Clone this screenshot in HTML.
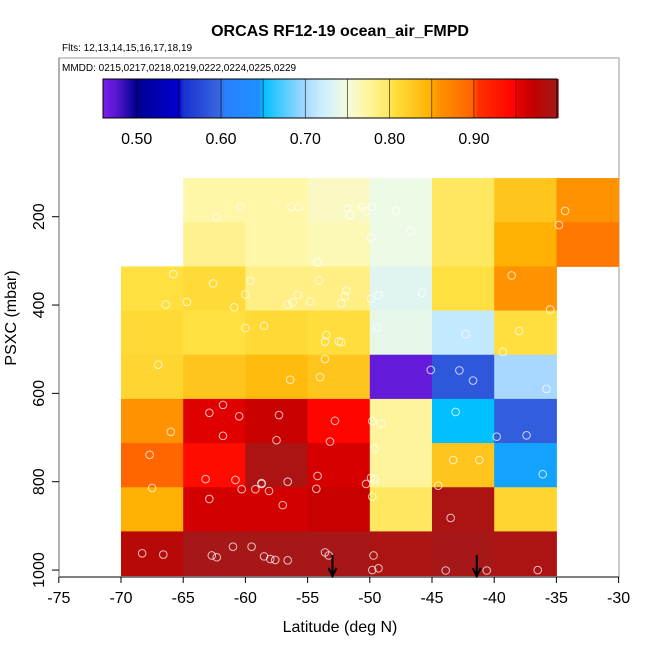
<!DOCTYPE html>
<html><head><meta charset="utf-8">
<style>
body{margin:0;background:#fff;}
svg{display:block;font-family:"Liberation Sans",Arial,sans-serif;}
</style></head>
<body>
<svg id="chart" width="650" height="650" viewBox="0 0 650 650" xmlns="http://www.w3.org/2000/svg">
<text x="340" y="36" font-size="16" font-weight="bold" text-anchor="middle">ORCAS RF12-19 ocean_air_FMPD</text>
<text x="62" y="51" font-size="10">Flts: 12,13,14,15,16,17,18,19</text>
<rect x="59" y="58" width="560" height="519" fill="none" stroke="#999" stroke-width="1"/>
<text x="62" y="71" font-size="10">MMDD: 0215,0217,0218,0219,0222,0224,0225,0229</text>
<g id="cells"></g>
<g id="points"></g>
<g id="arrows"></g>
<g id="cbar"></g>
<g id="axes"></g>
<text x="340" y="632" font-size="16" text-anchor="middle">Latitude (deg N)</text>
<text transform="translate(16,318) rotate(-90)" font-size="16" text-anchor="middle">PSXC (mbar)</text>
</svg>
<script>
const latEdges=[-70,-65,-60,-55,-50,-45,-40,-35,-30];
const presEdges=[112.5,212.5,312.5,412.5,512.5,612.5,712.5,812.5,912.5,1012.5];
const cellValues=[
[null,0.77,0.77,0.76,0.745,0.80,0.83,0.86],
[null,0.78,0.77,0.765,0.745,0.80,0.85,0.88],
[0.805,0.81,0.785,0.785,0.735,0.805,0.86,null],
[0.812,0.805,0.812,0.808,0.74,0.715,0.806,null],
[0.815,0.83,0.84,0.83,0.47,0.585,0.70,null],
[0.86,0.955,0.968,0.945,0.775,0.65,0.59,null],
[0.895,0.94,0.99,0.96,0.775,0.83,0.647,null],
[0.85,0.962,0.962,0.968,0.80,0.99,0.815,null],
[0.98,0.995,0.995,0.995,0.99,0.995,0.99,null]];
const pointLat=[-60.4,-62.3,-56.3,-55.7,-51.8,-51.6,-50.6,-50.3,-49.8,-47.9,-34.3,
-49.9,-46.7,-34.8,-54.2,-54.2,
-65.8,-66.4,-62.6,-64.7,-60.9,-60.0,-59.6,-56.6,-56.2,-55.8,-54.8,-54.1,-51.9,-52.0,-52.3,-49.9,-49.3,-45.8,-38.6,-35.5,
-60.0,-58.5,-53.5,-53.6,-52.5,-52.3,-49.4,-42.3,-38.0,-39.3,
-67.0,-56.4,-53.6,-54.0,-45.1,-42.8,-41.7,-35.8,
-62.9,-61.8,-60.5,-57.3,-66.0,-61.8,-57.5,-52.8,-53.2,-49.8,-49.1,-43.1,-39.8,-37.4,
-67.7,-49.6,-43.3,-41.2,-63.2,-60.8,-58.7,-58.7,-56.6,-54.2,-49.9,-49.6,-50.3,-36.1,
-67.5,-62.9,-60.3,-59.2,-58.1,-57.0,-54.3,-49.8,-44.5,-43.5,
-68.3,-66.6,-62.7,-62.3,-61.0,-59.5,-58.5,-58.0,-57.6,-56.6,-53.6,-53.3,-49.7,-49.8,-49.3,-43.9,-40.6,-36.5];
const pointPres=[178,201,178,178,181,196,178,188,178,187,187,
247,233,219,303,303,
330,399,351,393,405,376,345,399,394,377,392,344,367,380,396,386,378,372,333,410,
452,447,468,483,482,484,451,466,459,506,
535,569,522,563,547,548,571,590,
644,626,652,649,687,696,706,662,709,663,668,642,698,695,
739,725,751,751,794,796,803,805,800,787,791,794,805,783,
814,839,817,817,821,853,816,834,809,882,
962,965,967,971,947,947,969,975,977,978,960,967,967,1000,996,1001,1001,1000];
const arrowLat=[-53.0,-41.4];
const xTicks=[-75,-70,-65,-60,-55,-50,-45,-40,-35,-30];
const yTicks=[200,400,600,800,1000];
const cbarTicks=[0.50,0.60,0.70,0.80,0.90];
const cbarLines=[0.50,0.55,0.60,0.65,0.70,0.75,0.80,0.85,0.90,0.95];

const NS='http://www.w3.org/2000/svg';
function xs(lat){return 58.8+(lat+75)*12.44;}
function ys(p){return 216.7+(p-200)*0.4417;}
function cb(v){return 103+(v-0.46)*843;}
const stops=[[0.46,'#7a20ea'],[0.475,'#5818d0'],[0.50,'#000090'],[0.55,'#0000d0'],[0.555,'#1830d0'],[0.60,'#3a6ae0'],[0.605,'#2a80ff'],[0.645,'#2090ff'],[0.65,'#00c0ff'],[0.70,'#a8d8ff'],[0.72,'#cceeff'],[0.75,'#f4fce0'],[0.77,'#fff6a8'],[0.80,'#ffe860'],[0.805,'#ffe040'],[0.85,'#ffb000'],[0.855,'#ff9800'],[0.90,'#ff6000'],[0.905,'#ff3000'],[0.95,'#ff0000'],[0.955,'#e00000'],[0.97,'#c40000'],[1.0,'#a01c1c']];
function hex(h){return [1,3,5].map(i=>parseInt(h.substr(i,2),16));}
function cmap(v){
  if(v<=stops[0][0])return stops[0][1];
  for(let i=1;i<stops.length;i++){
    if(v<=stops[i][0]){
      const a=hex(stops[i-1][1]),b=hex(stops[i][1]);
      const t=(v-stops[i-1][0])/(stops[i][0]-stops[i-1][0]);
      return 'rgb('+a.map((c,k)=>Math.round(c+(b[k]-c)*t)).join(',')+')';
    }
  }
  return stops[stops.length-1][1];
}
function mk(tag,attrs,parent){const e=document.createElementNS(NS,tag);for(const k in attrs)e.setAttribute(k,attrs[k]);parent.appendChild(e);return e;}

const gc=document.getElementById('cells');
cellValues.forEach((row,r)=>row.forEach((v,c)=>{
  if(v===null)return;
  const x0=xs(latEdges[c]),x1=xs(latEdges[c+1]),y0=ys(presEdges[r]),y1=ys(presEdges[r+1]);
  const el=mk('rect',{x:x0,y:y0,width:x1-x0+0.5,height:y1-y0+0.5,fill:cmap(v)},gc);
  
  
}));

const gp=document.getElementById('points');
pointLat.forEach((lat,i)=>{
  const el=mk('circle',{cx:xs(lat),cy:ys(pointPres[i]),r:3.8,fill:'none',stroke:'rgba(255,255,255,0.75)','stroke-width':1},gp);
  
  
});

const ga=document.getElementById('arrows');
arrowLat.forEach(lat=>{
  const x=xs(lat),yt=ys(966),yb=576;
  const el=mk('path',{d:`M${x},${yt}L${x},${yb}M${x-4},${yb-8}L${x},${yb}L${x+4},${yb-8}`,stroke:'#000','stroke-width':2,fill:'none'},ga);
  
  
});

const gb=document.getElementById('cbar');
for(let v=0.46;v<0.999;v+=0.002){
  mk('rect',{x:cb(v),y:79,width:2.2,height:39,fill:cmap(v+0.001)},gb);
}
mk('rect',{x:103,y:79,width:454,height:39,fill:'none',stroke:'#000','stroke-width':1},gb);
cbarLines.forEach(v=>{
  const el=mk('line',{x1:cb(v),x2:cb(v),y1:79,y2:118,stroke:'#000','stroke-width':0.8,'stroke-opacity':0.7},gb);
  
  
});
cbarTicks.forEach(v=>{
  const t=mk('text',{x:cb(v),y:144,'font-size':16,'text-anchor':'middle'},gb);
  t.textContent=v.toFixed(2);
  
  
});

const gx=document.getElementById('axes');
mk('line',{x1:59,x2:619,y1:577,y2:577,stroke:'#000','stroke-width':1},gx);
mk('line',{x1:59,x2:59,y1:58,y2:577,stroke:'#666','stroke-width':1},gx);
xTicks.forEach(v=>{
  const x=xs(v);
  mk('line',{x1:x,x2:x,y1:577,y2:583,stroke:'#000'},gx);
  const t=mk('text',{x:x,y:603,'font-size':16,'text-anchor':'middle'},gx);
  t.textContent=v;
  
  
});
yTicks.forEach(v=>{
  const y=ys(v);
  mk('line',{x1:52,x2:59,y1:y,y2:y,stroke:'#000'},gx);
  const t=mk('text',{transform:`translate(44,${y}) rotate(-90)`,'font-size':16,'text-anchor':'middle'},gx);
  t.textContent=v;
  
  
});
</script>
</body></html>
